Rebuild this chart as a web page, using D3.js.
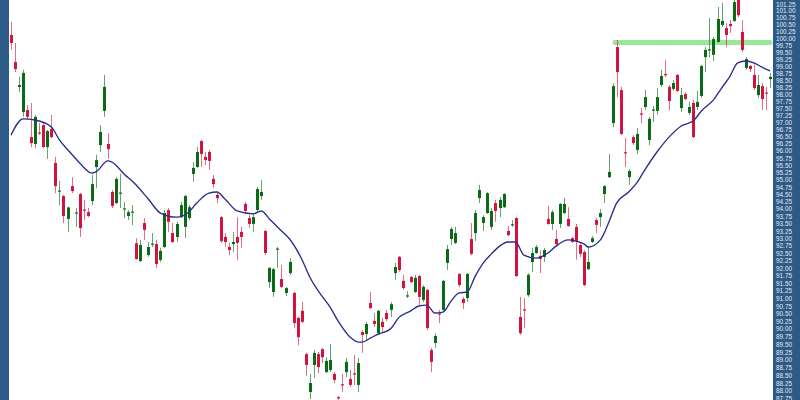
<!DOCTYPE html>
<html><head><meta charset="utf-8">
<script src="https://cdn.jsdelivr.net/npm/d3@7"></script>
<style>html,body{margin:0;padding:0;background:#fff;} svg{display:block;}</style>
</head><body>
<svg id="chart" width="800" height="400"></svg>
<script>
// ---- Data ----
const openVals = [
100.12,99.14,98.25,97.36,97.43,96.48,96.24,96.64,96.90,96.13,
96.76,95.58,94.59,94.44,93.66,94.78,93.84,94.51,93.98,93.89,
94.27,95.44,96.20,97.40,96.24,94.58,94.20,94.52,93.98,93.76,
93.87,92.84,92.24,93.52,92.44,92.80,92.81,92.28,92.71,93.96,
93.18,93.05,93.72,93.39,93.69,95.20,95.44,96.34,95.79,95.96,
95.03,94.48,93.72,93.05,92.71,92.81,93.05,93.22,94.17,93.69,
93.49,93.96,94.44,93.25,91.54,91.21,92.62,91.64,91.18,91.84,
91.18,90.36,90.59,89.18,87.96,88.83,89.18,89.34,88.60,88.67,
88.54,87.80,88.21,88.60,88.38,88.56,88.19,89.90,89.83,90.85,
90.26,89.86,90.23,90.52,90.62,91.84,92.38,91.58,91.06,91.71,
91.21,91.74,90.95,91.28,89.31,89.54,90.51,90.62,92.18,92.98,
92.85,91.81,90.98,91.01,92.98,93.18,94.37,93.52,93.86,93.39,
94.20,94.03,94.06,93.25,93.44,93.69,90.39,90.64,91.11,92.21,
92.51,92.41,92.38,93.66,93.49,92.98,93.49,93.86,93.66,93.01,
93.39,92.78,92.54,91.97,92.88,93.62,93.72,94.51,95.09,96.97,
99.68,98.14,95.95,95.09,96.48,96.03,97.31,97.54,96.38,97.41,
97.40,98.32,98.71,98.25,98.18,98.68,97.50,98.00,97.33,97.68,
97.54,97.93,99.32,99.56,99.40,99.87,100.48,100.37,100.52,100.63,
101.43,100.23,98.93,99.00,98.68,97.96,98.28,98.05,98.53];
const highVals = [
100.59,99.83,98.61,98.86,97.61,97.68,97.26,96.97,97.01,96.73,
97.26,95.79,94.96,94.48,94.08,95.09,94.03,94.54,94.31,94.03,
95.16,95.86,96.90,98.68,96.62,94.65,95.09,95.20,94.24,93.96,
94.13,93.01,92.95,93.69,92.88,93.18,92.95,92.68,93.96,94.03,
93.52,93.56,94.24,94.48,94.13,95.61,96.13,96.38,95.96,96.03,
95.16,94.58,93.76,93.18,92.85,93.22,93.72,93.39,94.24,93.79,
93.86,94.75,94.99,93.29,92.04,92.01,92.71,92.11,91.38,92.34,
91.21,90.39,90.88,89.22,88.54,89.31,89.25,89.38,89.08,89.51,
88.60,87.84,88.54,89.05,88.67,89.15,89.05,89.96,90.23,91.21,
90.52,90.62,90.36,90.62,90.88,92.18,92.41,91.78,91.24,91.74,
91.78,91.78,91.44,91.31,89.38,89.86,90.62,91.61,92.78,93.39,
93.39,91.84,91.05,91.84,93.52,93.96,94.82,93.79,94.58,94.03,
94.31,94.41,94.54,93.42,93.62,93.72,91.05,91.01,91.84,92.68,
92.78,92.61,92.68,94.10,93.96,93.29,94.20,94.37,94.06,93.05,
93.49,92.85,92.61,92.71,93.08,93.69,94.00,94.82,95.89,98.39,
99.94,98.25,96.45,95.37,96.55,96.80,97.50,98.14,97.19,97.57,
98.21,98.86,99.22,98.32,98.50,98.71,98.21,98.07,97.72,97.79,
98.11,99.04,99.68,100.73,100.05,101.14,101.29,100.55,100.66,101.47,
101.58,100.66,99.32,99.04,99.04,98.68,98.39,98.25,98.75];
const lowVals = [
99.58,98.78,98.07,97.19,97.08,96.13,96.10,96.55,96.10,95.72,
96.45,94.54,94.13,93.52,93.22,94.54,93.39,93.05,93.62,93.72,
94.13,94.71,95.96,97.19,95.72,94.03,94.17,94.03,93.69,93.62,
93.45,92.28,92.21,92.95,92.38,92.71,92.01,92.21,92.68,93.22,
92.85,92.88,93.69,93.01,93.62,94.93,95.41,95.44,95.51,95.34,
94.71,94.20,92.85,92.71,92.44,92.54,92.28,92.68,93.86,93.35,
93.22,93.89,94.31,92.44,91.34,91.05,92.01,91.34,91.08,91.78,
90.03,89.47,90.19,88.48,87.74,88.41,88.57,88.89,88.57,88.60,
88.25,87.70,87.96,88.44,88.12,88.19,87.96,89.22,89.64,90.65,
90.06,89.80,89.90,90.26,90.39,91.61,91.88,91.28,91.01,91.51,
91.18,90.78,90.88,89.96,88.60,89.38,90.19,90.55,91.94,92.78,
92.81,91.38,90.65,90.88,92.44,92.91,94.20,93.25,93.83,93.29,
93.56,93.72,94.03,93.08,93.39,91.71,89.80,90.03,91.05,91.88,
92.48,91.84,92.21,93.46,93.29,92.74,93.35,93.83,93.39,92.85,
92.28,92.38,91.41,91.94,92.85,93.18,93.39,94.20,95.06,96.83,
97.89,96.55,95.44,94.82,96.20,95.89,96.97,97.43,96.20,97.01,
97.26,98.25,98.61,97.43,98.11,98.07,97.36,97.79,97.26,96.45,
97.43,97.86,98.78,99.32,99.18,99.83,100.41,99.68,100.19,100.59,
100.77,99.50,98.86,98.78,98.14,97.86,97.43,97.43,98.21];
const closeVals = [
99.83,98.89,98.32,98.75,97.19,96.27,97.19,96.61,96.13,96.69,
96.48,94.78,94.63,93.76,94.05,94.61,93.88,93.35,93.94,93.76,
94.85,95.68,96.66,98.25,96.06,94.10,95.03,94.56,94.02,93.89,
93.91,92.31,92.78,93.29,92.71,92.83,92.14,92.58,93.86,93.56,
92.88,93.49,94.13,94.44,94.06,95.41,95.96,95.89,95.68,95.65,
94.85,94.37,92.91,92.88,92.61,92.88,92.85,93.05,93.93,93.49,
93.72,94.68,94.58,92.51,92.01,91.97,92.66,91.38,91.34,92.21,
90.19,89.73,90.23,88.83,88.25,89.22,88.76,89.08,88.96,88.99,
88.35,87.76,88.17,88.93,88.19,88.52,88.89,89.80,90.16,90.68,
90.16,90.59,90.06,90.32,90.81,92.04,91.94,91.34,91.10,91.54,
91.68,91.05,91.38,90.03,88.93,89.77,90.47,91.58,92.64,93.32,
93.18,91.44,90.85,91.81,92.48,93.86,94.65,93.72,94.54,93.93,
93.93,94.31,94.51,93.11,93.48,91.74,89.86,90.60,91.78,92.51,
92.71,92.31,92.61,93.49,93.89,92.81,94.17,94.17,93.42,92.88,
92.91,92.48,91.44,92.21,93.01,93.46,93.86,94.78,95.27,98.28,
98.78,96.59,95.91,95.30,96.27,96.59,97.27,97.89,97.12,97.45,
97.89,98.64,98.68,97.75,98.39,98.11,97.96,97.82,97.54,96.48,
97.72,99.00,99.58,99.60,99.97,100.70,100.63,100.12,100.44,101.32,
100.84,99.58,99.25,98.89,98.21,98.32,97.82,98.01,98.61];

// moving-average line, read at selected candle positions
const maIndex = [0,3,6,10,12,15,17,20,21,24,25,28,31,34,37,41,44,46,49,51,53,56,60,62,64,67,69,72,74,77,79,81,84,86,87,89,91,94,96,99,101,103,105,107,109,111,113,115,117,119,121,123,125,127,130,133,135,138,140,142,143,146,148,150,153,155,157,160,163,166,169,171,174,176,178,180,182,184,186,188];
const maValues = [96.55,97.12,97.08,96.83,96.38,95.89,95.58,95.23,95.27,95.65,95.61,95.20,94.82,94.34,93.86,93.72,93.89,94.20,94.54,94.58,94.34,93.93,93.83,93.93,93.66,93.25,92.98,92.31,91.71,91.08,90.72,90.26,89.73,89.57,89.57,89.70,89.83,90.00,90.36,90.59,90.75,90.78,90.52,90.55,90.91,91.18,91.21,91.74,92.18,92.48,92.74,92.88,92.88,92.44,92.34,92.51,92.74,92.95,92.91,92.81,92.71,92.95,93.52,94.20,94.58,94.89,95.34,95.96,96.48,96.87,97.05,97.40,97.79,98.21,98.61,99.11,99.18,99.11,98.96,98.82];

// horizontal resistance marker
const resistanceLevel = 99.85;
const resistanceSpan = [149.6, 188];

const tickLabels = [101.25,101.00,100.75,100.50,100.25,100.00,99.75,99.50,99.25,99.00,
98.75,98.50,98.25,98.00,97.75,97.50,97.25,97.00,96.75,96.50,96.25,96.00,95.75,95.50,95.25,
95.00,94.75,94.50,94.25,94.00,93.75,93.50,93.25,93.00,92.75,92.50,92.25,92.00,91.75,91.50,
91.25,91.00,90.75,90.50,90.25,90.00,89.75,89.50,89.25,89.00,88.75,88.50,88.25,88.00,87.75];

// ---- Drawing ----
const W = 800, H = 400;
const panelColor = "#2d5a86";
const upColor = "#0b6a15", downColor = "#d3123f";
const svg = d3.select("#chart");
svg.append("rect").attr("width", W).attr("height", H).attr("fill", "#fff");

const x = d3.scaleLinear().domain([0, openVals.length - 1]).range([11, 770]);
const y = d3.scaleLog().domain([87.75, 101.25]).range([398.7, 4]);

svg.append("defs").append("clipPath").attr("id", "plotClip")
  .append("rect").attr("x", 9).attr("y", 0).attr("width", 764).attr("height", H);

const plot = svg.append("g").attr("clip-path", "url(#plotClip)");

// resistance band
plot.append("line")
  .attr("x1", x(resistanceSpan[0])).attr("x2", x(resistanceSpan[1]))
  .attr("y1", y(resistanceLevel)).attr("y2", y(resistanceLevel))
  .attr("stroke", "#8ee68e").attr("stroke-width", 5)
  .attr("stroke-linecap", "round").attr("opacity", 0.9);

const candles = openVals.map((o, i) => ({i, o, h: highVals[i], l: lowVals[i], c: closeVals[i]}));
const g = plot.append("g");
const cg = g.selectAll("g.c").data(candles).join("g").attr("class", "c");
cg.append("line")
  .attr("x1", d => Math.round(x(d.i)) + 0.5).attr("x2", d => Math.round(x(d.i)) + 0.5)
  .attr("y1", d => y(d.h)).attr("y2", d => y(d.l))
  .attr("stroke", d => d.c >= d.o ? upColor : downColor)
  .attr("stroke-opacity", 0.62).attr("stroke-width", 1);
cg.append("rect")
  .attr("x", d => Math.round(x(d.i)) - 1)
  .attr("width", 3)
  .attr("y", d => y(Math.max(d.o, d.c)))
  .attr("height", d => Math.max(1.2, y(Math.min(d.o, d.c)) - y(Math.max(d.o, d.c))))
  .attr("fill", d => d.c >= d.o ? upColor : downColor);

// moving average
const maPts = maIndex.map((k, j) => [k, maValues[j]]);
plot.append("path").datum(maPts)
  .attr("d", d3.line().x(d => x(d[0])).y(d => y(d[1])).curve(d3.curveMonotoneX))
  .attr("fill", "none").attr("stroke", "#2a2d8c").attr("stroke-width", 1.35);

// side panels
svg.append("rect").attr("x", 0).attr("y", 0).attr("width", 9).attr("height", H).attr("fill", panelColor);
svg.append("rect").attr("x", 773).attr("y", 0).attr("width", 27).attr("height", H).attr("fill", panelColor);

const axis = d3.axisRight(y).tickValues(tickLabels).tickFormat(d3.format(".2f")).tickSize(0).tickPadding(0);
const ag = svg.append("g").attr("transform", "translate(776,0)").call(axis);
ag.select(".domain").remove();
ag.selectAll("text")
  .attr("fill", "#e3e9f0")
  .style("font-family", "'Liberation Sans', Arial, sans-serif")
  .style("font-size", "6.4px");
</script>
</body></html>
